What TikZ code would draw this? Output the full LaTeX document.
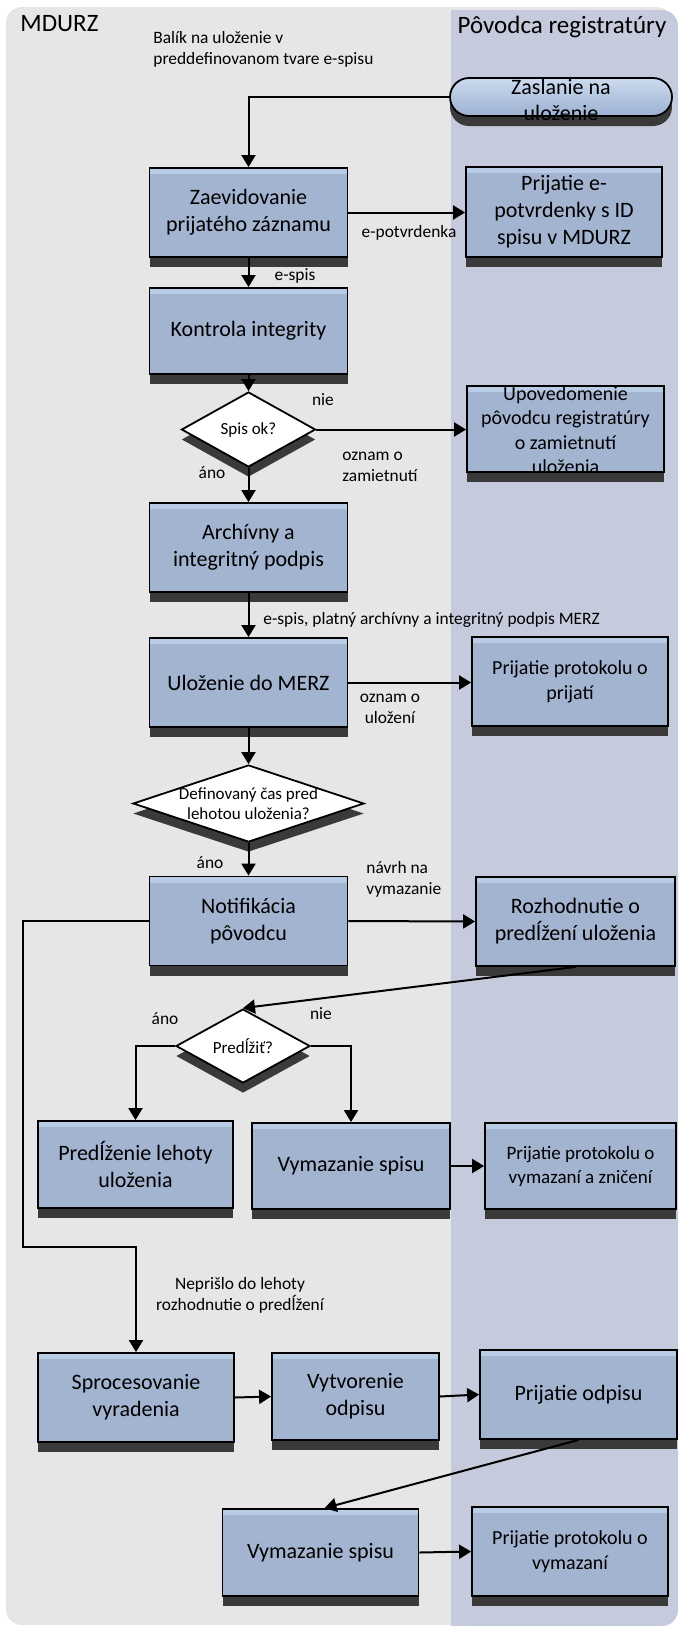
\documentclass[tikz,border=0pt]{standalone}
\usepackage{fontspec}
\setmainfont{Carlito}
\usetikzlibrary{shapes.geometric,shapes.misc,shadows,arrows.meta}
\definecolor{lanegrey}{HTML}{E6E6E6}
\definecolor{laneblue}{HTML}{C5CADC}
\definecolor{boxfill}{HTML}{A3B4D0}
\definecolor{boxtop}{HTML}{B9CCE6}
\definecolor{shadowc}{HTML}{3A3A3A}
\definecolor{termtop}{HTML}{CBDAEE}
\definecolor{termbot}{HTML}{9DB1D2}

\tikzset{
  shade box/.style={general shadow={fill=shadowc, shadow yshift=-5pt}},
  proc/.style={draw=black, line width=0.9pt, fill=boxfill, inner sep=1pt,
    align=center, minimum width=98pt, minimum height=44.5pt, shade box,
    path picture={\fill[boxtop] (path picture bounding box.north west)
      rectangle ([yshift=-3pt]path picture bounding box.north east);}},
  dec/.style={diamond, draw=black, line width=0.9pt, fill=white,
    inner sep=0pt, shade box},
  term/.style={rounded rectangle, draw=black, line width=0.9pt,
    top color=termtop, bottom color=termbot, inner sep=0pt, shade box},
  flow/.style={draw=black, line width=1pt, -{Triangle[length=6pt,width=7pt]}},
  lbl/.style={font=\fontsize{8.7}{10.5}\selectfont, inner sep=0pt},
  dtext/.style={font=\fontsize{8.5}{10}\selectfont, inner sep=0pt, align=center},
  ttext/.style={inner sep=0pt, align=center},
  head/.style={font=\fontsize{12.5}{15}\selectfont, inner sep=0pt}
}

\begin{document}
\begin{tikzpicture}[x=0.5pt,y=-0.5pt,font=\fontsize{11}{13.5}\selectfont]
\useasboundingbox (0,0) rectangle (684,1628);
\fill[white] (0,0) rectangle (684,1628);

% swimlanes
\fill[lanegrey, rounded corners=8pt] (6,7) rectangle (672,1625);
\fill[laneblue, rounded corners=8pt] (451,10) rectangle (678,1626);
\fill[laneblue] (451,10) rectangle (470,1626);

\node[head, anchor=west] (mdurz) at (20,24) {MDURZ};
\node[head] (povodca) at (562,27) {Pôvodca registratúry};

% process steps
\node[term, minimum width=111pt, minimum height=19pt] (zasl) at (561,97) {};
\node[ttext, font=\fontsize{11}{13}\selectfont] (zaslt) at (561,100) {Zaslanie na\\uloženie};

\node[proc, minimum width=99pt] (zaev) at (248.5,212.5) {Zaevidovanie\\prijatého záznamu};
\node[proc, minimum height=45pt] (potv) at (564,212) {Prijatie e-\\potvrdenky s ID\\spisu v MDURZ};
\node[proc, minimum width=99pt, minimum height=43pt] (kontr) at (248.5,331) {Kontrola integrity};

\node[dec, minimum width=67pt, minimum height=37.5pt] (spisok) at (248.5,429.5) {};
\node[dtext] (spisokt) at (spisok) {Spis ok?};

\node[proc, minimum width=98.5pt, minimum height=43pt] (upov) at (565.5,429) {};
\node[ttext, font=\fontsize{10}{12.2}\selectfont] (upovt) at (565.5,430) {Upovedomenie\\pôvodcu registratúry\\o zamietnutí\\uloženia};

\node[proc, minimum width=99pt, minimum height=44.5pt] (arch) at (248.5,547.5) {Archívny a\\integritný podpis};
\node[proc, minimum width=99pt, minimum height=44.5pt] (ulozenie) at (248.5,682.5) {Uloženie do MERZ};
\node[proc, font=\fontsize{10}{12.5}\selectfont] (protprij) at (570,681.5) {Prijatie protokolu o\\prijatí};

\node[dec, minimum width=115.5pt, minimum height=38.5pt] (defcas) at (248.5,803.5) {};
\node[dtext] (defcast) at (defcas) {Definovaný čas pred\\lehotou uloženia?};

\node[proc, minimum width=99pt] (notif) at (248.5,921) {Notifikácia\\pôvodcu};
\node[proc, minimum width=99.5pt] (rozh) at (575.5,921.5) {Rozhodnutie o\\predĺžení uloženia};

\node[dec, minimum width=67pt, minimum height=37pt] (predl) at (243,1046) {};
\node[dtext] (predlt) at (predl) {Predĺžiť?};

\node[proc, minimum width=97.5pt, minimum height=43.5pt] (predlleh) at (135.5,1164.5) {Predĺženie lehoty\\uloženia};
\node[proc, minimum width=99pt, minimum height=43pt] (vymaz) at (351,1166) {Vymazanie spisu};
\node[proc, minimum width=95.5pt, minimum height=43pt, font=\fontsize{9.5}{12}\selectfont] (protvym) at (580.5,1166) {Prijatie protokolu o\\vymazaní a zničení};

\node[proc] (sproc) at (136,1397.5) {Sprocesovanie\\vyradenia};
\node[proc, minimum width=83.5pt, minimum height=43.5pt] (vytv) at (355.5,1396.5) {Vytvorenie\\odpisu};
\node[proc, minimum width=98.5pt] (prodp) at (578.5,1394.5) {Prijatie odpisu};

\node[proc, minimum height=43.5pt] (vymaz2) at (320.5,1552.5) {Vymazanie spisu};
\node[proc, font=\fontsize{10}{12.5}\selectfont] (protvym2) at (570,1551.5) {Prijatie protokolu o\\vymazaní};

% connectors
\draw[flow] (zasl.west) -| (zaev.north);
\draw[flow] (zaev.east) -- (zaev.east -| potv.west);
\draw[flow] (zaev.south) -- (kontr.north);
\draw[flow] (kontr.south) -- (spisok.north);
\draw[flow] (spisok.east) -- (spisok.east -| upov.west);
\draw[flow] (spisok.south) -- (arch.north);
\draw[flow] (arch.south) -- (ulozenie.north);
\draw[flow] (ulozenie.east) -- (ulozenie.east -| protprij.west);
\draw[flow] (ulozenie.south) -- (defcas.north);
\draw[flow] (defcas.south) -- (notif.north);
\draw[flow] (notif.east) -- (rozh.west);
\draw[flow] (rozh.south) -- (predl.north);
\draw[flow] (predl.west) -| (predlleh.north);
\draw[flow] (predl.east) -| (vymaz.north);
\draw[flow] (vymaz.east) -- (protvym.west);
\coordinate (loop) at (23,1247);
\draw[flow] (notif.west) -| (loop) -| (sproc.north);
\draw[flow] (sproc.east) -- (vytv.west);
\draw[flow] (vytv.east) -- (prodp.west);
\draw[flow] (prodp.south) -- ([xshift=2pt]vymaz2.north);
\draw[flow] (vymaz2.east) -- (protvym2.west);

% connector labels
\node[lbl, anchor=west, align=left] (balik) at (153,49) {Balík na uloženie v\\preddefinovanom tvare e-spisu};
\node[lbl] (epotv) at (409,233) {e-potvrdenka};
\node[lbl] (espis) at (295,276) {e-spis};
\node[lbl] (nie1) at (323,400) {nie};
\node[lbl] (ano1) at (212,473) {áno};
\node[lbl, anchor=west, align=left] (ozn1) at (342,467) {oznam o\\zamietnutí};
\node[lbl, anchor=west] (espis2) at (263,620) {e-spis, platný archívny a integritný podpis MERZ};
\node[lbl, align=center] (ozn2) at (390,709) {oznam o\\uložení};
\node[lbl] (ano2) at (210,863) {áno};
\node[lbl, anchor=west, align=left] (navrh) at (366,879) {návrh na\\vymazanie};
\node[lbl] (nie3) at (321,1014) {nie};
\node[lbl] (ano3) at (165,1019) {áno};
\node[lbl, align=center] (nepr) at (240,1295) {Neprišlo do lehoty\\rozhodnutie o predĺžení};
\end{tikzpicture}
\end{document}
